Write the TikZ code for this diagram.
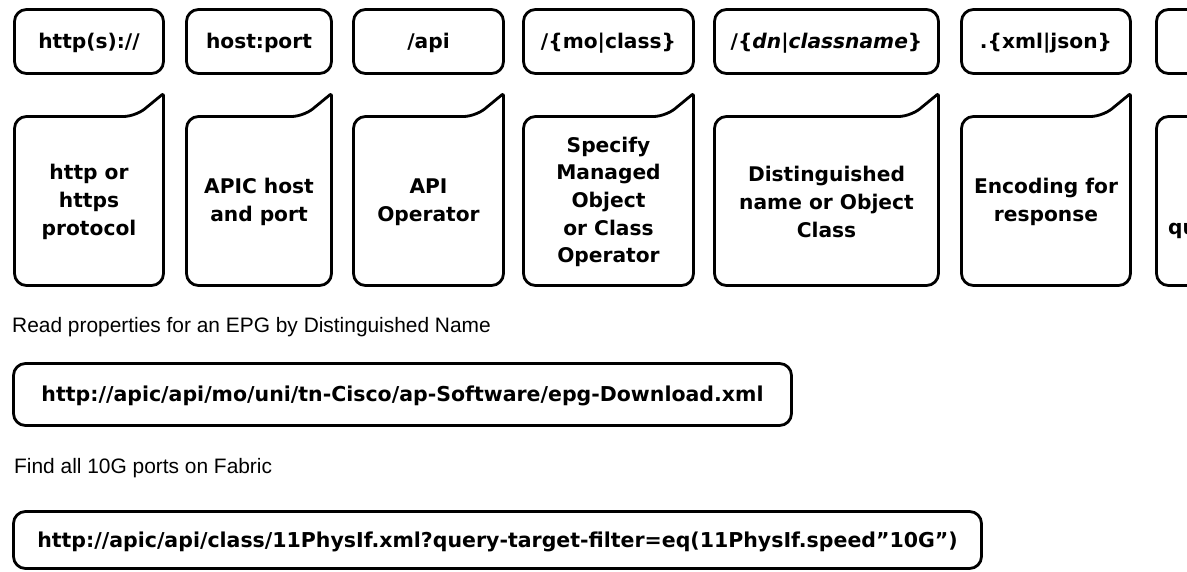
\documentclass[tikz,border=0pt]{standalone}
\usepackage{fontspec}
\setmainfont{Liberation Sans}
\newfontfamily\partfont{DejaVu Sans}
\tikzset{
  partbox/.style={draw=black, line width=2.8pt, rounded corners=12pt, inner sep=0pt,
    text height=14pt, text depth=0pt,
    font=\partfont\bfseries\fontsize{20.2}{27.7}\selectfont},
  urlbox/.style={partbox, font=\partfont\bfseries\fontsize{20.5}{27.7}\selectfont},
  notebox/.style={draw=black, line width=2.8pt, rounded corners=12pt, line join=round},
  notetext/.style={align=center, inner sep=0pt,
    font=\partfont\bfseries\fontsize{20.2}{27.7}\selectfont},
  caption/.style={anchor=base west, inner sep=0pt, font=\fontsize{20.9}{25}\selectfont},
}
\begin{document}
\begin{tikzpicture}[x=1pt,y=-1pt]
\useasboundingbox (0,0) rectangle (1187,572);
\clip (0,0) rectangle (1187,572);
% URL parts
\node (scheme) [partbox, minimum width=149pt, minimum height=64pt] at (89,41.5) {http(s)://};
\node (hostport) [partbox, minimum width=145pt, minimum height=64pt] at (259,41.5) {host:port};
\node (apiop) [partbox, minimum width=150pt, minimum height=64pt] at (428.5,41.5) {/api};
\node (moclass) [partbox, minimum width=170pt, minimum height=64pt] at (608.5,41.5) {/\{mo|class\}};
\node (dnclass) [partbox, minimum width=224pt, minimum height=64pt] at (826.5,41.5) {/\{\textit{dn}|\textit{classname}\}};
\node (encoding) [partbox, minimum width=169pt, minimum height=64pt] at (1046,41.5) {.\{xml|json\}};
\node (options) [partbox, minimum width=150pt, minimum height=64pt] at (1231.5,41.5) {};
% callouts
\draw [notebox] (14.5,200) -- (14.5,116.5) -- (135.5,116.5) [rounded corners=2pt] -- (163.5,93.5) -- (163.5,200) [rounded corners=12pt] -- (163.5,285.5) -- (14.5,285.5) -- cycle;
\draw [notebox] (186.5,200) -- (186.5,116.5) -- (303.5,116.5) [rounded corners=2pt] -- (331.5,93.5) -- (331.5,200) [rounded corners=12pt] -- (331.5,285.5) -- (186.5,285.5) -- cycle;
\draw [notebox] (353.5,200) -- (353.5,116.5) -- (475.5,116.5) [rounded corners=2pt] -- (503.5,93.5) -- (503.5,200) [rounded corners=12pt] -- (503.5,285.5) -- (353.5,285.5) -- cycle;
\draw [notebox] (523.5,200) -- (523.5,116.5) -- (665.5,116.5) [rounded corners=2pt] -- (693.5,93.5) -- (693.5,200) [rounded corners=12pt] -- (693.5,285.5) -- (523.5,285.5) -- cycle;
\draw [notebox] (714.5,200) -- (714.5,116.5) -- (910.5,116.5) [rounded corners=2pt] -- (938.5,93.5) -- (938.5,200) [rounded corners=12pt] -- (938.5,285.5) -- (714.5,285.5) -- cycle;
\draw [notebox] (961.5,200) -- (961.5,116.5) -- (1102.5,116.5) [rounded corners=2pt] -- (1130.5,93.5) -- (1130.5,200) [rounded corners=12pt] -- (1130.5,285.5) -- (961.5,285.5) -- cycle;
\draw [notebox] (1156.5,200) -- (1156.5,116.5) -- (1278.5,116.5) [rounded corners=2pt] -- (1306.5,93.5) -- (1306.5,200) [rounded corners=12pt] -- (1306.5,285.5) -- (1156.5,285.5) -- cycle;
\node (schemenote) [notetext] at (89,202) {http or\\https\\protocol};
\node (hostnote) [notetext] at (259,202) {APIC host\\and port};
\node (apinote) [notetext] at (428.5,202) {API\\Operator};
\node (monote) [notetext] at (608.5,202) {Specify\\Managed\\Object\\or Class\\Operator};
\node (dnnote) [notetext] at (826.5,202) {Distinguished\\name or Object\\Class};
\node (encnote) [notetext] at (1046,202) {Encoding for\\response};
\node (optnote) [notetext, anchor=west] at (1168,231) {qu};
% examples
\node (readcap) [caption] at (12,332) {Read properties for an EPG by Distinguished Name};
\node (readurl) [urlbox, minimum width=778pt, minimum height=62pt] at (402.5,394.5) {http://apic/api/mo/uni/tn-Cisco/ap-Software/epg-Download.xml};
\node (findcap) [caption] at (14,473) {Find all 10G ports on Fabric};
\node (findurl) [urlbox, minimum width=968pt, minimum height=57pt] at (497.5,540) {http://apic/api/class/11PhysIf.xml?query-target-filter=eq(11PhysIf.speed”10G”)};
\end{tikzpicture}
\end{document}
